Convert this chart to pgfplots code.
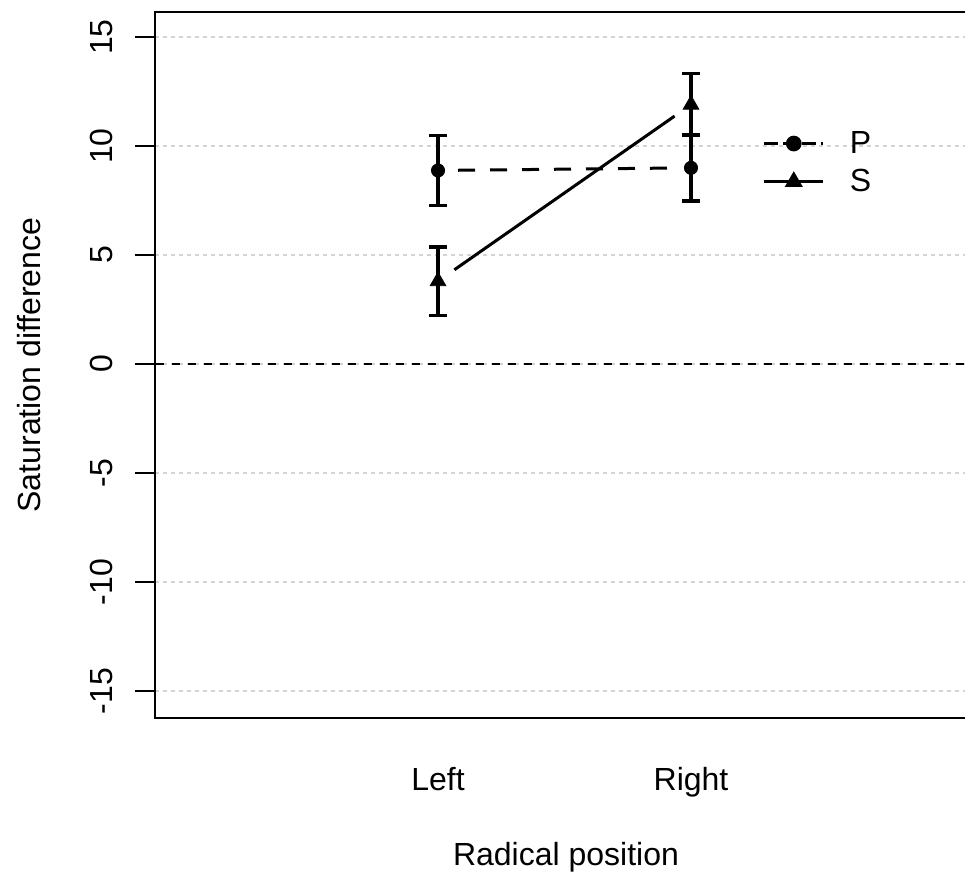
\documentclass[border=0pt]{standalone}
\usepackage{fontspec}
\setmainfont{Liberation Sans}
\usepackage{pgfplots}
\pgfplotsset{compat=1.18}

\definecolor{gridgray}{HTML}{D3D3D3}

\begin{document}
\begin{tikzpicture}[font=\fontsize{16}{19}\selectfont]
\begin{axis}[
  scale only axis,
  width=411pt, height=353pt,
  xmin=-0.1186, xmax=3.1304,
  ymin=-16.24, ymax=16.15,
  axis line style={line width=1pt},
  tick pos=left,
  tick align=outside,
  major tick length=10pt,
  xtick={1,2}, xticklabels={Left,Right},
  major x tick style={draw=none},
  ytick={-15,-10,-5,0,5,10,15},
  yticklabels={-15,-10,-5,0,5,10,15},
  major y tick style={line width=1pt, black},
  ymajorgrids,
  major grid style={gridgray, line width=1pt, dash pattern=on 2pt off 2pt},
  yticklabel style={rotate=90, anchor=base, inner sep=0pt},
  xticklabel style={anchor=base, inner sep=0pt},
  yticklabel shift=11pt,
  xticklabel shift=26pt,
  xlabel={Radical position}, ylabel={Saturation difference},
  every axis x label/.style={at={(axis description cs:0.5,-0.2096)}, anchor=base},
  every axis y label/.style={at={(axis description cs:-0.1387,0.5)}, rotate=90, anchor=base},
  legend style={at={(axis description cs:0.7397,0.8314)}, anchor=north west,
    draw=none, fill=none, inner sep=0pt, outer sep=0pt,
    row sep=6.5pt, column sep=12.7pt, nodes={inner sep=0pt}},
  legend cell align=left,
  legend image code/.code={
    \draw[mark repeat=2, mark phase=2, #1] plot coordinates {(0pt,0pt) (14.75pt,0pt) (29.5pt,0pt)};
  },
]
% reference line at zero
\addplot[black, line width=1pt, dash pattern=on 4pt off 4pt, forget plot] coordinates {(-1,0) (4,0)};

% connecting lines (gapped at the points)
\addplot[black, line width=1.5pt, dash pattern=on 8.5pt off 7.5pt, shorten <=10pt, shorten >=10pt, forget plot]
  coordinates {(1,8.88) (2,9.0)};
\addplot[black, line width=1.5pt, shorten <=10pt, shorten >=10pt, forget plot]
  coordinates {(1,3.8) (2,11.9)};

% points with error bars
\addplot[black, only marks, mark=*, mark size=3.3pt, forget plot,
  error bars/.cd, y dir=both, y explicit,
  error bar style={line width=2pt},
  error mark options={rotate=90, line width=1.75pt, mark size=4.5pt}]
  coordinates {(1,8.88) +- (0,1.61) (2,9.0) +- (0,1.52)};
\addplot[black, only marks, mark=triangle*, mark size=4.5pt, forget plot,
  error bars/.cd, y dir=both, y explicit,
  error bar style={line width=2pt},
  error mark options={rotate=90, line width=1.75pt, mark size=4.5pt}]
  coordinates {(1,3.8) +- (0,1.58) (2,11.9) +- (0,1.42)};

\addlegendimage{black, line width=1.25pt, dash pattern=on 7pt off 2.5pt, mark=*, mark size=3.3pt, mark options={solid}}
\addlegendentry{P}
\addlegendimage{black, line width=1.25pt, mark=triangle*, mark size=4pt, mark options={solid}}
\addlegendentry{S}

\coordinate (O) at (rel axis cs:0,0);
\end{axis}
\pgfresetboundingbox
\useasboundingbox ([shift={(-77.5pt,-78.5pt)}]O) rectangle ([shift={(405pt,359pt)}]O);
\end{tikzpicture}
\end{document}
